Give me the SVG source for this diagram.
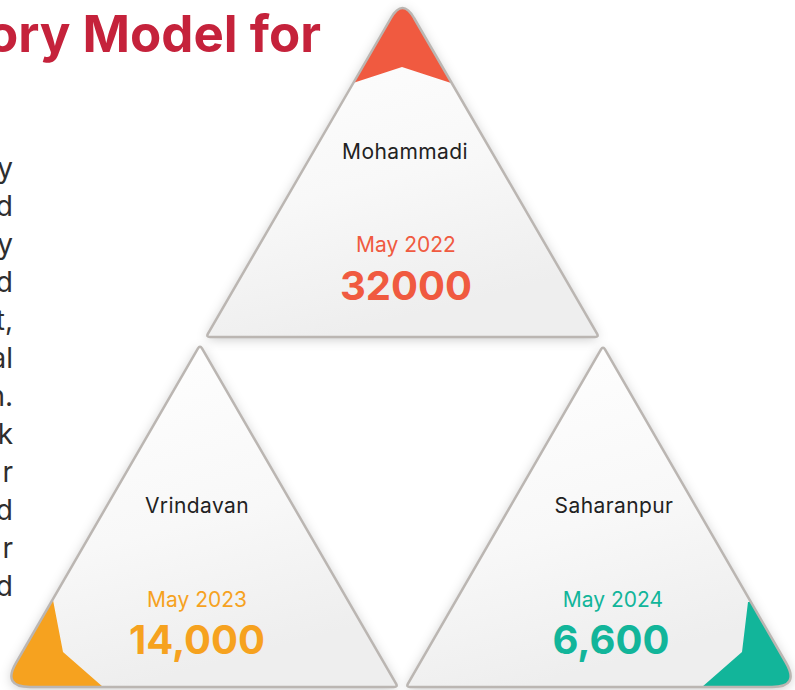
<svg xmlns="http://www.w3.org/2000/svg" width="795" height="690" viewBox="0 0 795 690">
  <defs>
    <linearGradient id="tri-fill" x1="0" y1="0" x2="0.3" y2="1">
      <stop offset="0" stop-color="#ffffff"/>
      <stop offset="0.6" stop-color="#f8f8f8"/>
      <stop offset="1" stop-color="#eeeeee"/>
    </linearGradient>
    <filter id="shadow" x="-10%" y="-10%" width="120%" height="120%">
      <feDropShadow dx="0" dy="2" stdDeviation="6" flood-color="#000" flood-opacity="0.22"/>
    </filter>
    <clipPath id="clip-top">
      <path d="M 414,18 Q 402.5,-2 391,18 L 208,333.54 Q 206,337 210,337 L 595,337 Q 599,337 597,333.54 Z"/>
    </clipPath>
    <clipPath id="clip-left">
      <path d="M 198,348.46 Q 200,345 202,348.46 L 396,683.54 Q 398,687 394,687 L 30,687 Q 2,687 16.03,662.77 Z"/>
    </clipPath>
    <clipPath id="clip-right">
      <path d="M 601,349.46 Q 603,346 605,349.46 L 785.99,662.75 Q 800,687 772,687 L 410,687 Q 406,687 408,683.54 Z"/>
    </clipPath>
  </defs>
  <style>
    .tri { fill: url(#tri-fill); }
    .edge { fill: none; stroke: #bbb6b2; stroke-width: 2.5; stroke-linejoin: round; }
    .place { font-family: Inter, "Liberation Sans", sans-serif; font-size: 21px; fill: #222222; text-anchor: middle; letter-spacing: 0.4px; }
    .date { font-family: Inter, "Liberation Sans", sans-serif; font-size: 21px; text-anchor: middle; }
    .num { font-family: Inter, "Liberation Sans", sans-serif; font-size: 40px; font-weight: 700; text-anchor: middle; }
    .para { font-family: Inter, "Liberation Sans", sans-serif; font-size: 28px; fill: #2e2e2e; text-anchor: end; }
    .red { fill: #f05a40; }
    .orange { fill: #f6a21f; }
    .teal { fill: #12b59a; }
  </style>

  <g id="title">
    <text x="321" y="52" font-family="Inter, 'Liberation Sans', sans-serif" font-size="51" font-weight="700" fill="#c5223b" text-anchor="end">ory Model for</text>
  </g>

  <g id="paragraph" class="para">
    <text x="13" y="178">y</text>
    <text x="13" y="216">d</text>
    <text x="13" y="254">y</text>
    <text x="13" y="292">d</text>
    <text x="13" y="330">t,</text>
    <text x="13" y="368">al</text>
    <text x="13" y="406">n.</text>
    <text x="13" y="444">k</text>
    <text x="13" y="482">r</text>
    <text x="13" y="520">d</text>
    <text x="13" y="558">r</text>
    <text x="13" y="596">d</text>
  </g>

  <g id="connectors"/>

  <g id="node-mohammadi">
    <path class="tri" filter="url(#shadow)" d="M 414,18 Q 402.5,-2 391,18 L 208,333.54 Q 206,337 210,337 L 595,337 Q 599,337 597,333.54 Z"/>
    <polygon class="red" clip-path="url(#clip-top)" points="353,83 402,67 451,83 451,-10 353,-10"/>
    <path class="edge" d="M 414,18 Q 402.5,-2 391,18 L 208,333.54 Q 206,337 210,337 L 595,337 Q 599,337 597,333.54 Z"/>
    <text class="place" x="405" y="159">Mohammadi</text>
    <text class="date red" x="406" y="252">May 2022</text>
    <text class="num red" x="406" y="300">32000</text>
  </g>

  <g id="node-vrindavan">
    <path class="tri" filter="url(#shadow)" d="M 198,348.46 Q 200,345 202,348.46 L 396,683.54 Q 398,687 394,687 L 30,687 Q 2,687 16.03,662.77 Z"/>
    <polygon class="orange" clip-path="url(#clip-left)" points="53,600 63,652 103,687 103,700 -10,700 -10,600"/>
    <path class="edge" d="M 198,348.46 Q 200,345 202,348.46 L 396,683.54 Q 398,687 394,687 L 30,687 Q 2,687 16.03,662.77 Z"/>
    <text class="place" x="197" y="513">Vrindavan</text>
    <text class="date orange" x="197" y="607">May 2023</text>
    <text class="num orange" x="197" y="654">14,000</text>
  </g>

  <g id="node-saharanpur">
    <path class="tri" filter="url(#shadow)" d="M 601,349.46 Q 603,346 605,349.46 L 785.99,662.75 Q 800,687 772,687 L 410,687 Q 406,687 408,683.54 Z"/>
    <polygon class="teal" clip-path="url(#clip-right)" points="748,602 742,652 702,687 702,700 810,700 810,602"/>
    <path class="edge" d="M 601,349.46 Q 603,346 605,349.46 L 785.99,662.75 Q 800,687 772,687 L 410,687 Q 406,687 408,683.54 Z"/>
    <text class="place" x="614" y="513">Saharanpur</text>
    <text class="date teal" x="613" y="607">May 2024</text>
    <text class="num teal" x="611" y="654">6,600</text>
  </g>
</svg>
